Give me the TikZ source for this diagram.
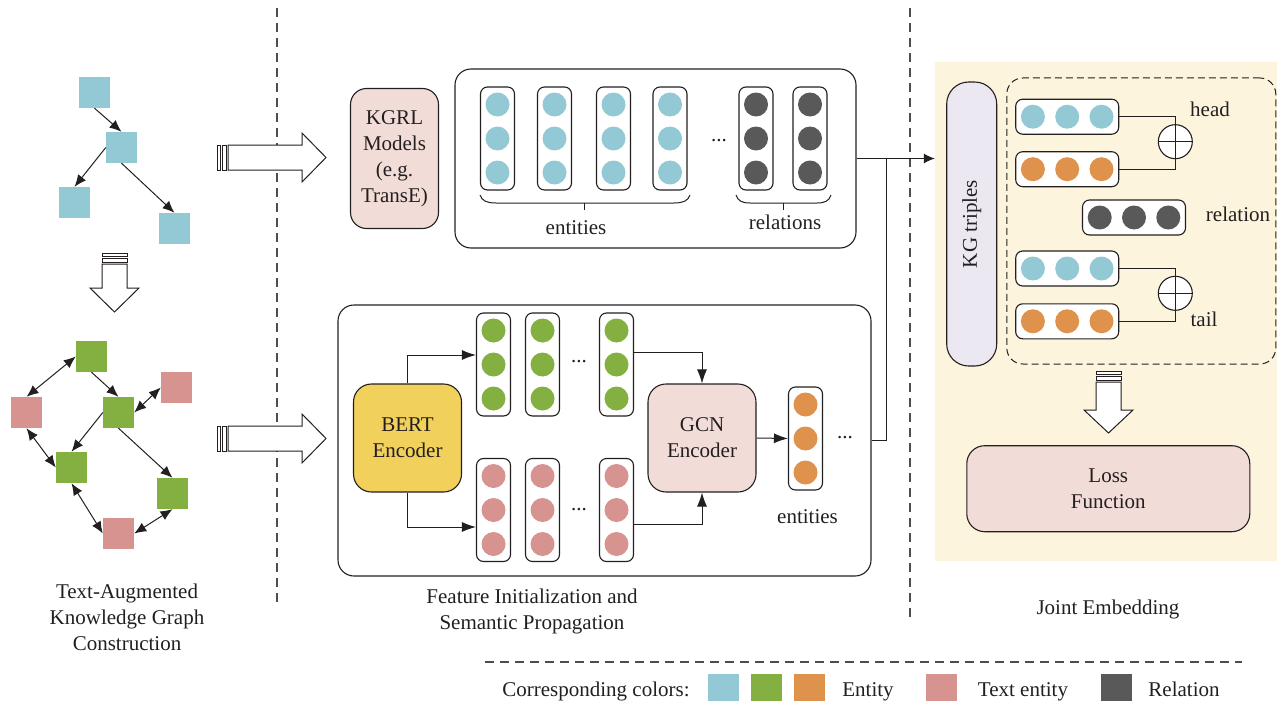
\documentclass[tikz,border=0pt]{standalone}
\usepackage{fontspec}
\setmainfont{Liberation Serif}
\usetikzlibrary{arrows.meta,calc}
\definecolor{cblue}{HTML}{93C9D4}
\definecolor{cgreen}{HTML}{84B041}
\definecolor{corange}{HTML}{DE924C}
\definecolor{cpink}{HTML}{D79390}
\definecolor{cdark}{HTML}{595959}
\definecolor{lpink}{HTML}{F2DCD8}
\definecolor{cyellow}{HTML}{F2D05C}
\definecolor{lavender}{HTML}{ECE8F2}
\definecolor{bgyellow}{HTML}{FCF4DC}
\definecolor{linec}{HTML}{231F20}
\definecolor{dashc}{HTML}{4D4D4D}
\newcommand\vcol[4]{%
  \node[vbox] (#1) at (#2,#3) {};
  \foreach \d/\i in {-34/a,0/b,34/c} \node[dot=#4] (#1\i) at ($(#1)+(0,\d)$) {};
}
\newcommand\hcol[4]{%
  \node[hbox] (#1) at (#2,#3) {};
  \foreach \d/\i in {-34.3/a,0/b,34.3/c} \node[dot=#4] (#1\i) at ($(#1)+(\d,0)$) {};
}
\begin{document}
\begin{tikzpicture}[x=1pt,y=-1pt,
  font=\fontsize{21}{26}\selectfont,
  every node/.style={text=linec},
  sq/.style={rectangle, minimum size=31pt, inner sep=0pt, fill=#1},
  vbox/.style={draw=linec, line width=1.1pt, rounded corners=7pt, minimum width=34pt, minimum height=103pt, inner sep=0pt, fill=white},
  hbox/.style={draw=linec, line width=1.1pt, rounded corners=7pt, minimum width=103pt, minimum height=35pt, inner sep=0pt, fill=white},
  dot/.style={circle, fill=#1, minimum size=24pt, inner sep=0pt},
  rbox/.style={draw=linec, line width=1.1pt, rounded corners=16pt, align=center, inner sep=0pt},
  garr/.style={-{Latex[length=12pt,width=10pt]}, line width=1pt, draw=linec},
  gdarr/.style={{Latex[length=12pt,width=10pt]}-{Latex[length=12pt,width=10pt]}, line width=1pt, draw=linec},
  marr/.style={-{Latex[length=14pt,width=10pt]}, line width=1pt, draw=linec},
  conn/.style={line width=1pt, draw=linec},
  blk/.style={draw=linec, line width=1pt, fill=white},
  sep/.style={dashc, line width=1.2pt, dash pattern=on 9pt off 6pt},
  lbl/.style={align=center, inner sep=0pt},
  leg/.style={inner sep=0pt, anchor=base}
]
\useasboundingbox (0,0) rectangle (1277,701);

% ---------- separators ----------
\draw[sep] (277,8) -- (277,605);
\draw[sep] (910,8) -- (910,620);
\draw[sep] (485,662) -- (1242,662);

% ---------- left panel: top tree ----------
\node[sq=cblue] (t1) at (94.5,92.5) {};
\node[sq=cblue] (t2) at (121.5,147.5) {};
\node[sq=cblue] (t3) at (74.5,202.5) {};
\node[sq=cblue] (t4) at (174.5,228.5) {};
\draw[garr] (t1.south) -- (t2.north);
\draw[garr] (t2.west) -- (t3.north);
\draw[garr] (t2.south) -- (t4.north);

% down block arrow (left)
\draw[blk] (102,253) rectangle (127,256);
\draw[blk] (102,258) rectangle (127,262);
\draw[blk] (102,264) -- (127,264) -- (127,288) -- (139,288) -- (114.5,312) -- (90,288) -- (102,288) -- cycle;

% ---------- left panel: text-augmented graph ----------
\node[sq=cgreen] (g1) at (91.5,356.5) {};
\node[sq=cpink]  (r1) at (26.5,412.5) {};
\node[sq=cpink]  (r2) at (176.5,387.5) {};
\node[sq=cgreen] (g2) at (118.5,412.5) {};
\node[sq=cgreen] (g3) at (71.5,467.5) {};
\node[sq=cgreen] (g4) at (172.5,493.5) {};
\node[sq=cpink]  (r3) at (118.5,533.5) {};
\draw[gdarr] (g1.west) -- (r1.north);
\draw[garr] (g1.south) -- (g2.north);
\draw[gdarr] (r2.west) -- (g2.east);
\draw[garr] (g2.west) -- (g3.north);
\draw[garr] (g2.south) -- (g4.north);
\draw[gdarr] (r1.south) -- (g3.west);
\draw[gdarr] (g3.south) -- (r3.west);
\draw[gdarr] (r3.east) -- (g4.south);

\node[lbl] (ltitle) at (127,617) {Text-Augmented\\Knowledge Graph\\Construction};

% right block arrows
\draw[blk] (217,145) rectangle (220,170);
\draw[blk] (222,145) rectangle (226,170);
\draw[blk] (228,145) -- (302,145) -- (302,133) -- (326,157.5) -- (302,182) -- (302,170) -- (228,170) -- cycle;
\draw[blk] (217,426) rectangle (220,451);
\draw[blk] (222,426) rectangle (226,451);
\draw[blk] (228,426) -- (302,426) -- (302,414) -- (326,438.5) -- (302,463) -- (302,451) -- (228,451) -- cycle;

% ---------- middle top ----------
\node[rbox, fill=lpink, minimum width=88pt, minimum height=140pt] (kgrl) at (394.5,158.5) {KGRL\\Models\\(e.g.\\TransE)};
\node[rbox, minimum width=401pt, minimum height=179pt] (topbox) at (655.5,158.5) {};
\vcol{e1}{497.5}{138.5}{cblue}
\vcol{e2}{554.5}{138.5}{cblue}
\vcol{e3}{613.5}{138.5}{cblue}
\vcol{e4}{670}{138.5}{cblue}
\vcol{q1}{756}{138.5}{cdark}
\vcol{q2}{810}{138.5}{cdark}
\node[inner sep=0pt] (tdots) at (719,141) {...};
\draw[conn] (480,195) .. controls (482,201) and (487,203) .. (496,203) -- (674,203) .. controls (683,203) and (688,201) .. (690,195);
\draw[conn] (584,203) -- (584,210);
\draw[conn] (736,195) .. controls (738,201) and (742,203) .. (750,203) -- (817,203) .. controls (825,203) and (829,201) .. (831,195);
\draw[conn] (783,203) -- (783,210);
\node[inner sep=0pt] (tent) at (576,228) {entities};
\node[inner sep=0pt] (trel) at (785,222) {relations};

% ---------- middle bottom ----------
\node[rbox, minimum width=533pt, minimum height=271pt] (botbox) at (604.5,440.5) {};
\node[rbox, fill=cyellow, rounded corners=18pt, minimum width=108pt, minimum height=108pt] (bert) at (407.5,438) {BERT\\Encoder};
\node[rbox, fill=lpink, rounded corners=18pt, minimum width=108pt, minimum height=108pt] (gcn) at (702,438) {GCN\\Encoder};
\vcol{gc1}{493.5}{364.5}{cgreen}
\vcol{gc2}{542.5}{364.5}{cgreen}
\vcol{gc3}{616.5}{364.5}{cgreen}
\vcol{pc1}{493.5}{510}{cpink}
\vcol{pc2}{542.5}{510}{cpink}
\vcol{pc3}{616.5}{510}{cpink}
\vcol{oc}{805.5}{438.5}{corange}
\node[inner sep=0pt] (gdots) at (579,362) {...};
\node[inner sep=0pt] (pdots) at (579,510) {...};
\node[inner sep=0pt] (odots) at (845,438) {...};
\node[inner sep=0pt] (bent) at (807.5,517) {entities};
\draw[marr] (bert.north) |- ($(gc1.west)+(0,-9.5)$);
\draw[marr] (bert.south) |- ($(pc1.west)+(0,17)$);
\draw[marr] ($(gc3.east)+(0,-12.5)$) -| (gcn.north);
\draw[marr] ($(pc3.east)+(0,14)$) -| (gcn.south);
\draw[marr] (gcn.east) -- (oc.west);

\node[lbl] (mtitle) at (532,611) {Feature Initialization and\\Semantic Propagation};

% ---------- right panel ----------
\node[fill=bgyellow, minimum width=342pt, minimum height=499.3pt, inner sep=0pt] (jbg) at (1106,311.35) {};
\coordinate (j) at (886,158.5);
\draw[conn] (topbox.east) -- (j);
\draw[-{Latex[length=11pt,width=10pt]}, line width=1pt, draw=linec] (j) -- (j -| jbg.west);
\draw[conn] (botbox.east) -| (j);

\node[rbox, fill=lavender, rounded corners=22pt, rotate=90, minimum width=284pt, minimum height=50pt] (kg) at (971.7,224) {KG triples};
\node[draw=linec, line width=1pt, dashed, dash pattern=on 7pt off 4pt, rounded corners=16pt, minimum width=269pt, minimum height=286pt, inner sep=0pt] (dbox) at (1141.3,221) {};

\hcol{hb}{1067.2}{116.7}{cblue}
\hcol{ho}{1067.2}{169.2}{corange}
\hcol{rl}{1134}{217.5}{cdark}
\hcol{tb}{1067.2}{268.5}{cblue}
\hcol{to}{1067.2}{321.3}{corange}
\node[circle, draw=linec, line width=1.1pt, fill=white, minimum size=34pt, inner sep=0pt] (op1) at (1175.3,141.7) {};
\node[circle, draw=linec, line width=1.1pt, fill=white, minimum size=34pt, inner sep=0pt] (op2) at (1175.3,293.3) {};
\draw[conn] (op1.north) -- (op1.south) (op1.west) -- (op1.east);
\draw[conn] (op2.north) -- (op2.south) (op2.west) -- (op2.east);
\draw[conn] (hb.east) -| (op1.north);
\draw[conn] (ho.east) -| (op1.south);
\draw[conn] (tb.east) -| (op2.north);
\draw[conn] (to.east) -| (op2.south);
\node[inner sep=0pt] (lhead) at (1210,109) {head};
\node[inner sep=0pt] (lrel) at (1238,214) {relation};
\node[inner sep=0pt] (ltail) at (1204,319) {tail};

\draw[blk] (1096,371.5) rectangle (1121,374.5);
\draw[blk] (1096,376.5) rectangle (1121,380);
\draw[blk] (1096,382) -- (1121,382) -- (1121,410) -- (1133,410) -- (1108.5,433) -- (1084,410) -- (1096,410) -- cycle;

\node[rbox, fill=lpink, rounded corners=18pt, minimum width=283pt, minimum height=86pt] (loss) at (1108.3,488.7) {Loss\\Function};
\node[lbl] (rtitle) at (1108,609) {Joint Embedding};

% ---------- legend ----------
\node[leg] (lcc) at (596,696) {Corresponding colors:};
\node[sq=cblue, minimum width=31pt, minimum height=27pt] (lg1) at (723,687.5) {};
\node[sq=cgreen, minimum width=31pt, minimum height=27pt] (lg2) at (766,687.5) {};
\node[sq=corange, minimum width=31pt, minimum height=27pt] (lg3) at (809.5,687.5) {};
\node[leg] (lent) at (868,696) {Entity};
\node[sq=cpink, minimum width=31pt, minimum height=27pt] (lg4) at (941.5,687.5) {};
\node[leg] (ltent) at (1023,696) {Text entity};
\node[sq=cdark, minimum width=31pt, minimum height=27pt] (lg5) at (1116.5,687.5) {};
\node[leg] (lrl) at (1184,696) {Relation};
\end{tikzpicture}
\end{document}
